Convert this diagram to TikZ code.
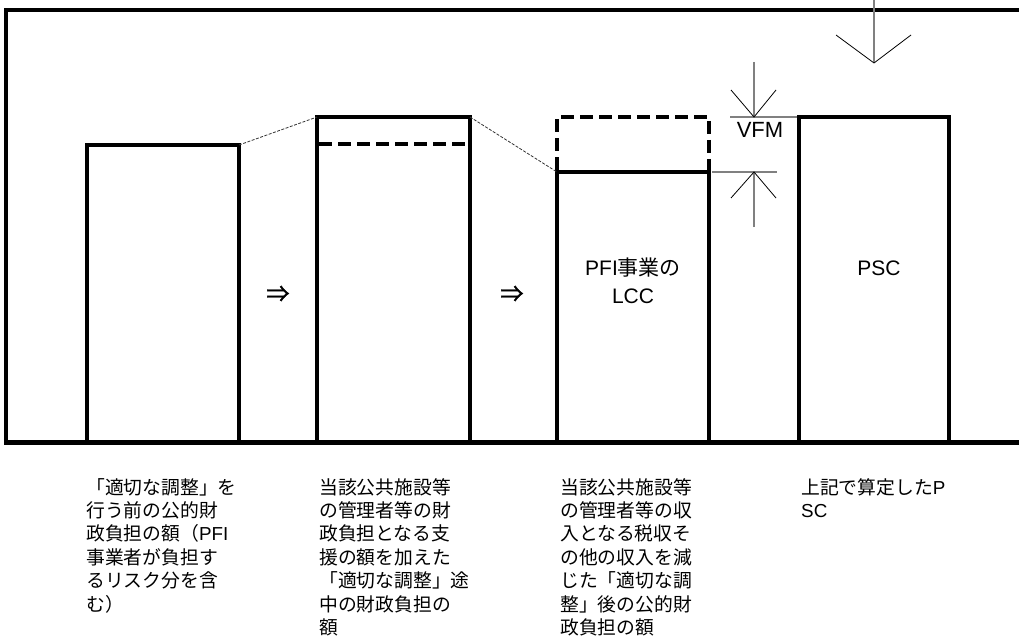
\documentclass[tikz,border=0pt]{standalone}
\usepackage{fontspec}
\newfontfamily\jp{Noto Sans CJK JP}
\newfontfamily\lat{Liberation Sans}
\newfontfamily\arrfont[FakeBold=1.8]{Noto Sans CJK JP}
\begin{document}
\begin{tikzpicture}[x=1pt,y=-1pt,
  frame/.style={line width=4.5pt},
  bar/.style={line width=4.5pt, line join=miter},
  dashbar/.style={line width=4pt, dash pattern=on 13pt off 6pt},
  thin dot/.style={line width=0.8pt, dash pattern=on 3pt off 1.5pt, black!80},
  dimline/.style={line width=1.6pt, gray},
  head/.style={line width=0.8pt, black},
  desc/.style={anchor=north west, inner sep=0pt, align=left, font=\jp\fontsize{18.8}{23.4}\selectfont},
  lab/.style={inner sep=0pt, align=center, font=\jp\fontsize{21}{28}\selectfont},
  arr/.style={inner sep=0pt, font=\arrfont\fontsize{23}{26}\selectfont}]
\useasboundingbox (0,0) rectangle (1019,639);
% frame
\draw[frame] (1019,10) -- (6,10) -- (6,442);
\draw[line width=5pt] (4,442) -- (1019,442);
% corner coordinates
\coordinate (b1tr) at (239,145);
\coordinate (b2tl) at (317,117);
\coordinate (b2tr) at (470,117);
\coordinate (b3tl) at (557,172);
% box 1
\draw[bar] (87,442) -- (87,145) -- (b1tr) -- (239,442);
% box 2
\draw[bar] (317,442) -- (b2tl) -- (b2tr) -- (470,442);
\draw[dashbar] (319,144) -- (468,144);
% box 3
\draw[bar] (557,442) -- (b3tl) -- (709,172) -- (709,442);
\draw[dashbar] (557,170) -- (557,117) -- (709,117) -- (709,170);
% box 4
\draw[bar] (799,442) -- (799,117) -- (949,117) -- (949,442);
% dotted connectors
\draw[thin dot] (b1tr) -- (b2tl);
\draw[thin dot] (b2tr) -- (b3tl);
% top arrow
\coordinate (ta) at (874,0);
\coordinate (tb) at (874,63);
\draw[dimline] (ta) -- (tb);
\draw[head] (836,35) -- (tb) -- (911,35);
% VFM arrows
\coordinate (va) at (754,62);
\coordinate (vb) at (754,117);
\draw[dimline] (va) -- (vb);
\draw[dimline] (730,117) -- (797,117);
\draw[head] (731,90) -- (vb) -- (776,90);
\coordinate (vc) at (754,227);
\coordinate (vd) at (754,172);
\draw[dimline] (vc) -- (vd);
\draw[dimline] (712,172) -- (777,172);
\draw[head] (731,198) -- (vd) -- (776,198);
\node[lab, anchor=base, font=\lat\fontsize{22}{28}\selectfont] (vfm) at (760,138) {VFM};
% labels
\node[lab, anchor=base] (lcc1) at (633,275) {{\lat PFI}事業の};
\node[lab, anchor=base] (lcc2) at (633,303) {\lat LCC};
\node[lab, anchor=base] (psc) at (879,275) {\lat PSC};
\node[arr] (r1) at (278,294) {⇒};
\node[arr] (r2) at (512,294) {⇒};
% descriptions
\node[desc] (d1) at (86,478) {「適切な調整」を\\行う前の公的財\\政負担の額（{\lat PFI}\\事業者が負担す\\るリスク分を含\\む）};
\node[desc] (d2) at (319,478) {当該公共施設等\\の管理者等の財\\政負担となる支\\援の額を加えた\\「適切な調整」途\\中の財政負担の\\額};
\node[desc] (d3) at (560,478) {当該公共施設等\\の管理者等の収\\入となる税収そ\\の他の収入を減\\じた「適切な調\\整」後の公的財\\政負担の額};
\node[desc] (d4) at (801,478) {上記で算定した{\lat P}\\{\lat SC}};
\end{tikzpicture}
\end{document}
